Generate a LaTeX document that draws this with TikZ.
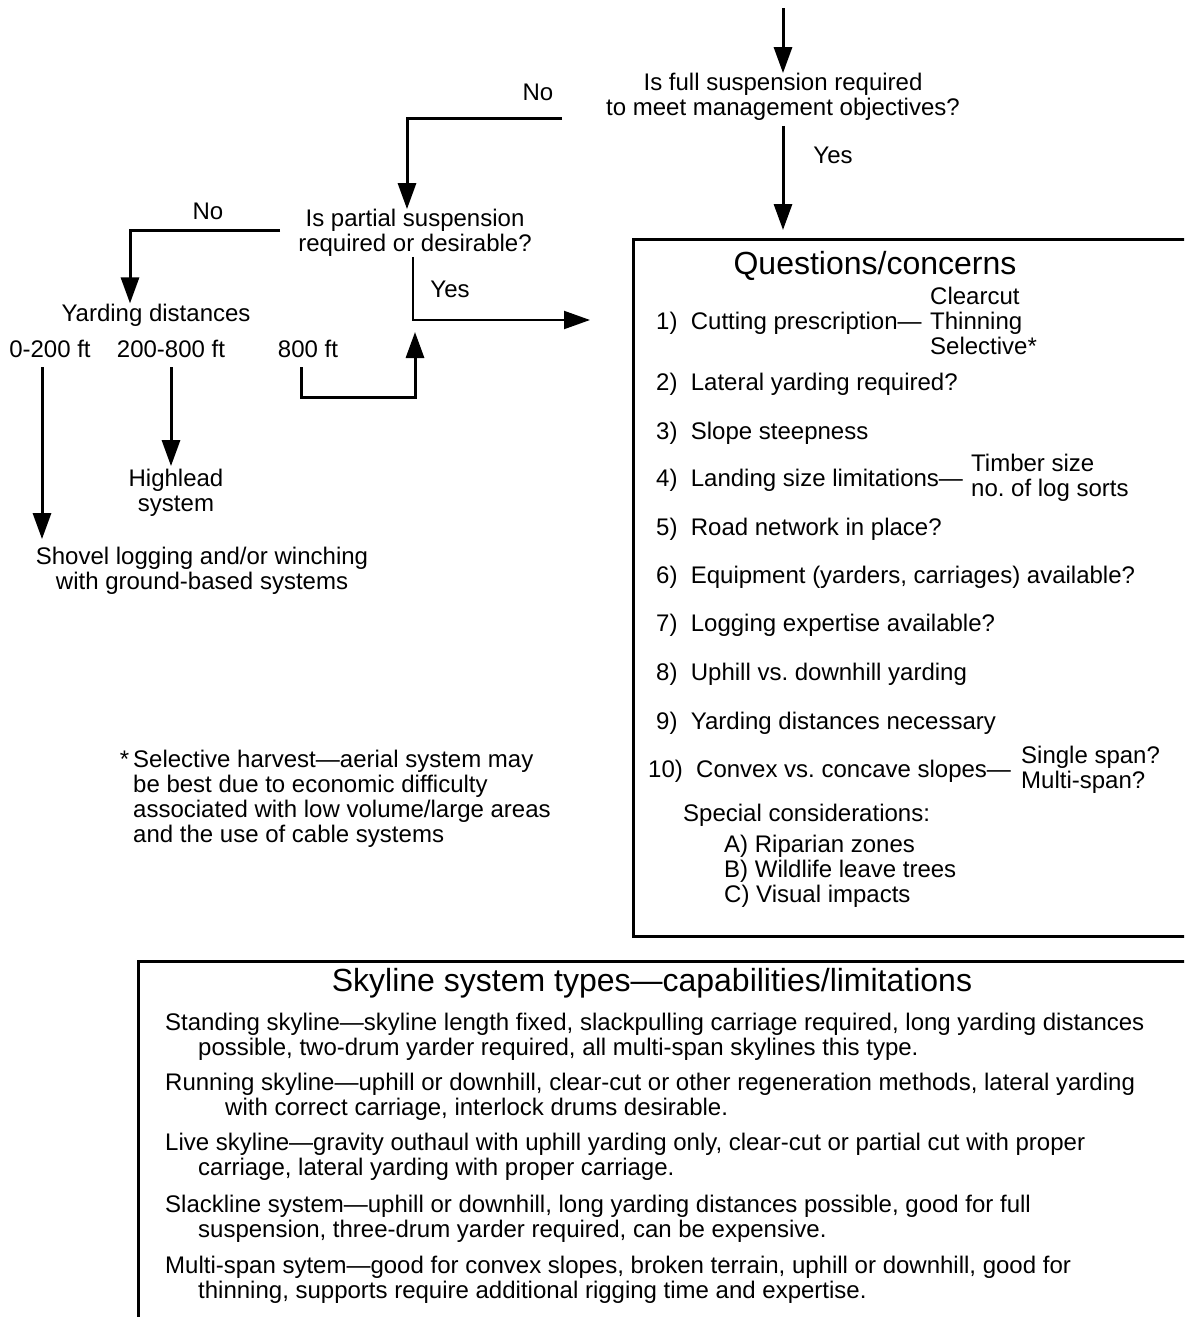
\documentclass[tikz,border=0pt]{standalone}
\usepackage{fontspec}
\setmainfont{Liberation Sans}
\usetikzlibrary{arrows.meta}
\begin{document}
\begin{tikzpicture}[x=1pt,y=-1pt,
  every node/.style={inner sep=0pt,font=\fontsize{24}{25}\selectfont\frenchspacing},
  ask/.style={align=center},
  lbl/.style={anchor=base},
  item/.style={anchor=base west},
  side/.style={anchor=west,align=left},
  head/.style={anchor=base,font=\fontsize{32}{34}\selectfont},
  flow/.style={line width=3pt,line join=miter,-{Triangle[length=26pt,width=18pt]}},
  frame/.style={draw,line width=3pt}]
\clip (0,0) rectangle (1184,1317);

% decisions
\coordinate (in) at (783,8);
\node[ask] (full) at (783,97) {Is full suspension required\\to meet management objectives?};
\node[ask] (partial) at (415,233) {Is partial suspension\\required or desirable?};
\node[lbl] (yard) at (156,321) {Yarding distances};
\node[lbl] (d1) at (50,357) {0-200 ft};
\node[lbl] (d2) at (171,357) {200-800 ft};
\node[lbl] (d3) at (308,357) {800 ft};
\node[ask] (high) at (176,493) {Highlead\\system};
\node[ask] (shovel) at (202,571) {Shovel logging and/or winching\\with ground-based systems};

% branch labels
\node[lbl] (no1) at (538,100) {No};
\node[lbl] (yes1) at (833,163) {Yes};
\node[lbl] (no2) at (208,219) {No};
\node[lbl] (yes2) at (450,297) {Yes};

% questions box
\node[frame,anchor=north west,minimum width=600pt,minimum height=697pt] (qbox) at (632,238) {};
\node[head] (qhead) at (875,274) {Questions/concerns};
\node[item] (q1) at (656,329) {1)\ \ Cutting prescription—};
\node[side] (cut) at (930,321) {Clearcut\\Thinning\\Selective*};
\node[item] (q2) at (656,390) {2)\ \ Lateral yarding required?};
\node[item] (q3) at (656,439) {3)\ \ Slope steepness};
\node[item] (q4) at (656,486) {4)\ \ Landing size limitations—};
\node[side] (land) at (971,478) {Timber size\\no. of log sorts};
\node[item] (q5) at (656,535) {5)\ \ Road network in place?};
\node[item] (q6) at (656,583) {6)\ \ Equipment (yarders, carriages) available?};
\node[item] (q7) at (656,631) {7)\ \ Logging expertise available?};
\node[item] (q8) at (656,680) {8)\ \ Uphill vs. downhill yarding};
\node[item] (q9) at (656,729) {9)\ \ Yarding distances necessary};
\node[item] (q10) at (648,777) {10)\ \ Convex vs. concave slopes—};
\node[side] (span) at (1021,770) {Single span?\\Multi-span?};
\node[item] (spec) at (683,821) {Special considerations:};
\node[side] (zones) at (724,871) {A) Riparian zones\\B) Wildlife leave trees\\C) Visual impacts};

% footnote
\node[side] (note) at (133,799) {\llap{*\,}Selective harvest—aerial system may\\be best due to economic difficulty\\associated with low volume/large areas\\and the use of cable systems};

% skyline box
\node[frame,anchor=north west,minimum width=1100pt,minimum height=420pt] (sbox) at (137,960) {};
\node[head] (shead) at (652,991) {Skyline system types—capabilities/limitations};
\node[side] (st1) at (165,1037) {Standing skyline—skyline length fixed, slackpulling carriage required, long yarding distances\\\hspace*{33pt}possible, two-drum yarder required, all multi-span skylines this type.};
\node[side] (st2) at (165,1097) {Running skyline—uphill or downhill, clear-cut or other regeneration methods, lateral yarding\\\hspace*{60pt}with correct carriage, interlock drums desirable.};
\node[side] (st3) at (165,1157) {Live skyline—gravity outhaul with uphill yarding only, clear-cut or partial cut with proper\\\hspace*{33pt}carriage, lateral yarding with proper carriage.};
\node[side] (st4) at (165,1219) {Slackline system—uphill or downhill, long yarding distances possible, good for full\\\hspace*{33pt}suspension, three-drum yarder required, can be expensive.};
\node[side] (st5) at (165,1280) {Multi-span sytem—good for convex slopes, broken terrain, uphill or downhill, good for\\\hspace*{33pt}thinning, supports require additional rigging time and expertise.};

% connectors
\coordinate (n1) at (562,118);
\coordinate (n2) at (280,230);
\coordinate (y2) at (590,320);
\coordinate (b800) at (415,397);
\draw[flow] (in) -- (full.north);
\draw[flow,shorten <=5pt,shorten >=8pt] (full.south) -- (full.south |- qbox.north);
\draw[flow] (n1) -| ([xshift=-8pt]partial.north);
\draw[flow] (n2) -| ([xshift=-26pt]yard.north);
\draw[flow,line width=2pt] ([xshift=-2pt]partial.south) |- (y2);
\draw[flow,shorten <=10pt,shorten >=8pt] ([xshift=-8pt]d1.south) -- ([xshift=-8pt]d1.south |- shovel.north);
\draw[flow,shorten <=10pt,shorten >=3pt] (d2.south) -- (d2.south |- high.north);
\draw[flow,shorten <=10pt] ([xshift=-7pt]d3.south) |- (b800) -- (b800 |- 0,332);
\end{tikzpicture}
\end{document}
